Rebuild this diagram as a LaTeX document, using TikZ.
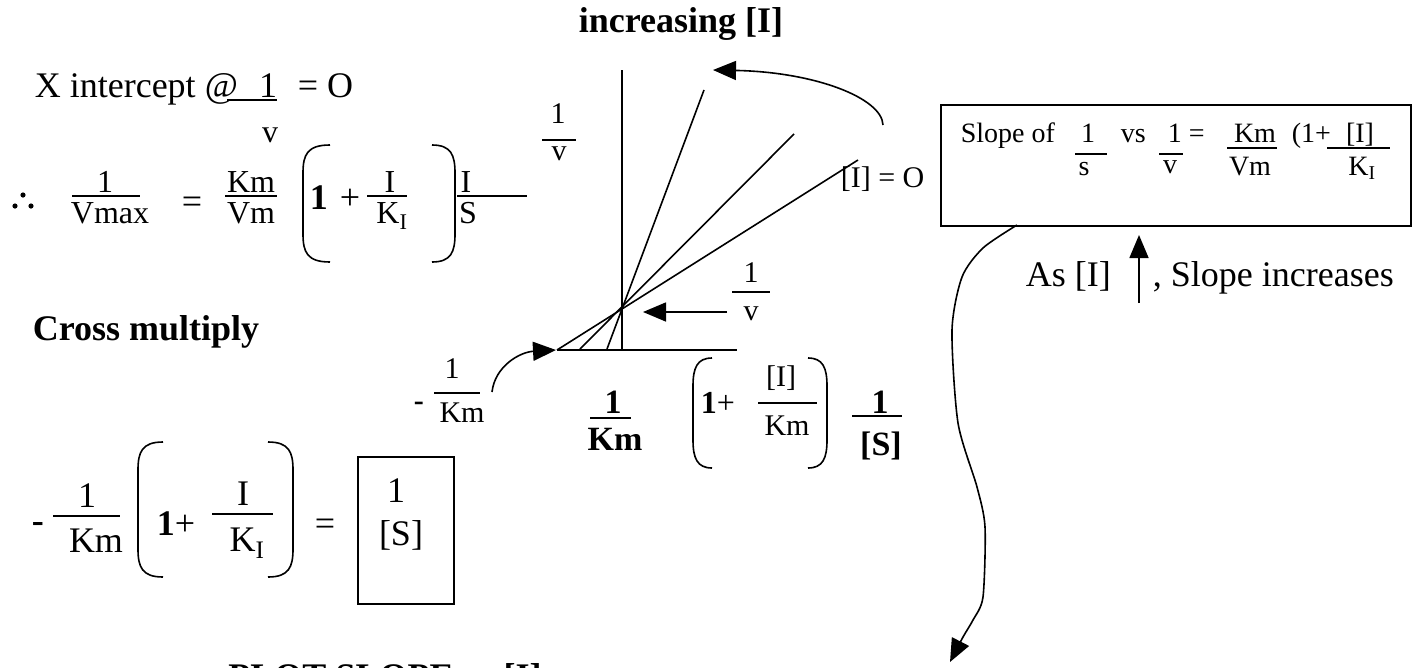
\documentclass[tikz,border=0pt]{standalone}
\usepackage{fontspec}
\setmainfont{Liberation Serif}
\usetikzlibrary{arrows.meta}
\newcommand\fsz[1]{\fontsize{#1}{#1}\selectfont}
\newcommand\myLP[4]{\draw[paren] (#2,#3) .. controls ({#1+4},#3) and (#1,{#3+10}) .. (#1,{#3+28}) -- (#1,{#4-28}) .. controls (#1,{#4-10}) and ({#1+4},#4) .. (#2,#4);}
\newcommand\myRP[4]{\draw[paren] (#2,#3) .. controls ({#1-4},#3) and (#1,{#3+10}) .. (#1,{#3+28}) -- (#1,{#4-28}) .. controls (#1,{#4-10}) and ({#1-4},#4) .. (#2,#4);}
\begin{document}
\begin{tikzpicture}[x=1pt,y=-1pt,line width=1.6pt,
  t/.style={inner sep=0pt,anchor=base},
  tw/.style={inner sep=0pt,anchor=base west},
  f28/.style={font=\fsz{28}},
  f30/.style={font=\fsz{30}},
  f32/.style={font=\fsz{32}},
  f36/.style={font=\fsz{36}},
  b30/.style={font=\bfseries\fsz{30}},
  b34/.style={font=\bfseries\fsz{34}},
  b36/.style={font=\bfseries\fsz{36}},
  fr/.style={line width=1.5pt},
  paren/.style={line width=1.6pt},
  axis/.style={line width=1.8pt},
  arr/.style={line width=1.6pt,-{Triangle[length=23pt,width=19pt]}}]
\useasboundingbox (0,0) rectangle (1421,667);
\fill[white] (0,0) rectangle (1421,667);

% title
\node[t,b36] (title) at (681,32) {increasing [I]};

% X intercept line
\node[tw,f36] (xint) at (34,97) {X intercept @};
\node[t,f36] (xone) at (268,97) {1};
\draw[fr] (227,100) -- (277,100);
\node[t,f32] (xv) at (270,142) {v};
\node[tw,f36] (xeq) at (297,97) {= O};

% therefore equation
\fill (23,195) circle (2.6pt) (15,206) circle (2.6pt) (31,206) circle (2.6pt);
\node[t,f32] (e1n) at (105,192) {1};
\draw[fr] (72,196) -- (140,196);
\node[t,f32] (e1d) at (110,223) {Vmax};
\node[t,f36] (e1eq) at (192,213) {=};
\node[t,f32] (e1km) at (251,192) {Km};
\draw[fr] (225,196) -- (277,196);
\node[t,f32] (e1vm) at (251,223) {Vm};
\myLP{303}{330}{145}{262}
\myRP{455}{432}{145}{262}
\node[tw,f36] (e1one) at (309,209) {\textbf{1}\hspace{12pt}+};
\node[t,f32] (e1i) at (390,192) {I};
\draw[fr] (367,196) -- (407,196);
\node[t,f32] (e1ki) at (392,223) {K\textsubscript{I}};
\node[t,f32] (e1i2) at (466,192) {I};
\draw[fr] (457,196) -- (527,196);
\node[t,f32] (e1s) at (468,223) {S};

% cross multiply
\node[tw,b36] (cross) at (32,340) {Cross multiply};

% graph
\draw[axis] (622,70) -- (622,350);
\draw[axis] (557,350) -- (737,350);
\draw (607,349) -- (704,90);
\draw (580,349) -- (794,134);
\draw (557,350) -- (858,160);
\node[t,f30] (lv1) at (558,123) {1};
\draw[fr] (542,140) -- (576,140);
\node[t,f30] (lv2) at (559,160) {v};
\node[tw,f30] (izero) at (840,187) {[I] = O};
\coordinate (ca) at (883,125);
\coordinate (cb) at (713,70);
\draw[arr] (ca) .. controls (882,98) and (815,72) .. (cb);
\node[t,f30] (rv1) at (751,282) {1};
\draw[fr] (732,292) -- (770,292);
\node[t,f30] (rv2) at (751,320) {v};
\coordinate (ha) at (727,312);
\coordinate (hb) at (643,312);
\draw[arr] (ha) -- (hb);

% -1/Km
\node[tw,b30] (mk0) at (413,410) {-};
\node[t,f30] (mk1) at (452,378) {1};
\draw[fr] (434,393) -- (480,393);
\node[t,f30] (mk2) at (462,422) {Km};
\coordinate (la) at (492,392);
\coordinate (lb) at (556,350);
\draw[arr] (la) .. controls (495,366) and (520,352) .. (lb);

% bold 1/Km (1+[I]/Km) 1/[S]
\node[t,b34] (bk1) at (613,413) {1};
\draw[fr] (590,418) -- (631,418);
\node[t,b34] (bk2) at (615,450) {Km};
\myLP{693}{712}{358}{468}
\myRP{827}{808}{358}{468}
\node[tw,f32] (bone) at (700,413) {\textbf{1}+};
\node[t,f30] (bi) at (781,386) {[I]};
\draw[fr] (758,403) -- (817,403);
\node[t,f30] (bkm) at (787,435) {Km};
\node[t,b34] (bs1) at (880,413) {1};
\draw[fr] (852,416) -- (902,416);
\node[t,b34] (bs2) at (881,455) {[S]};

% bottom equation
\node[tw,b36] (q0) at (31,532) {-};
\node[t,f36] (q1) at (87,507) {1};
\draw[fr] (53,516) -- (120,516);
\node[t,f36] (q2) at (96,552) {Km};
\myLP{138}{163}{442}{577}
\myRP{293}{268}{442}{577}
\node[tw,f36] (qone) at (156,535) {\textbf{1}+};
\node[t,f36] (qi) at (243,505) {I};
\draw[fr] (212,514) -- (273,514);
\node[t,f36] (qki) at (247,551) {K\textsubscript{I}};
\node[t,f36] (qeq) at (325,535) {=};
\node[draw,line width=1.6pt,anchor=north west,minimum width=96pt,minimum height=147pt,inner sep=0pt] (sbox) at (357,456) {};
\node[t,f36] (sb1) at (396,502) {1};
\node[t,f36] (sb2) at (401,545) {[S]};

% plot slope (cut by the lower edge, as in the reference)
\node[t,b36] (plot) at (385,688) {PLOT SLOPE vs [I]};

% right box
\node[draw,line width=1.6pt,anchor=north west,minimum width=470pt,minimum height=121pt,inner sep=0pt] (slopebox) at (940,104) {};
\node[tw,f28] (sl) at (960,142) {Slope of};
\node[t,f28] (s1) at (1088,142) {1};
\draw[fr] (1075,154) -- (1107,154);
\node[t,f28] (s2) at (1084,175) {s};
\node[tw,f28] (svs) at (1120,142) {vs};
\node[tw,f28] (s3) at (1167,142) {1 =};
\draw[fr] (1159,154) -- (1183,154);
\node[t,f28] (s4) at (1170,173) {v};
\node[t,f28] (s5) at (1255,142) {Km};
\draw[fr] (1227,148) -- (1277,148);
\node[t,f28] (s6) at (1250,175) {Vm};
\node[tw,f28] (s7) at (1291,142) {(1+};
\node[t,f28] (s8) at (1360,142) {[I]};
\draw[fr] (1327,148) -- (1390,148);
\node[t,f28] (s9) at (1362,175) {K\textsubscript{I}};

% as [I] up
\node[tw,f36] (asi) at (1025,286) {As [I]};
\coordinate (ua) at (1139,303);
\coordinate (ub) at (1139,235);
\draw[arr] (ua) -- (ub);
\node[tw,f36] (slinc) at (1152,286) {, Slope increases};

% wavy arrow
\coordinate (wend) at (950,662);
\draw[arr] plot[smooth,tension=0.45] coordinates {(1017,225) (983,248) (962,277) (952,330) (958,423) (977,487) (985,527) (983,597) (973,620) (963,637) (wend)};
\end{tikzpicture}
\end{document}
